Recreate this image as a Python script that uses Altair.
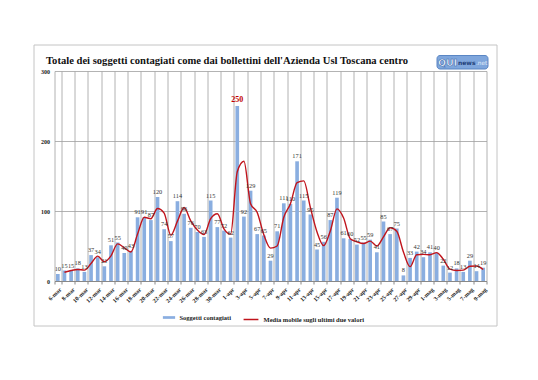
import altair as alt
import pandas as pd

days = ([f"{d}-mar" for d in range(6, 32)]
        + [f"{d}-apr" for d in range(1, 31)]
        + [f"{d}-mag" for d in range(1, 10)])
cases = [10, 15, 15, 18, 13, 37, 34, 21, 51, 55, 40, 43, 91, 91, 87, 120, 74, 57, 114, 96, 76, 70, 63, 115, 77, 72,
         62, 250, 92, 129, 67, 65, 29, 71, 111, 110, 171, 115, 95, 45, 56, 87, 119, 61, 60, 52, 55, 59, 41, 85, 67, 75, 8, 33, 42, 34,
         41, 40, 22, 12, 18, 13, 29, 14, 19]
y_ticks = [0, 50, 100, 150, 200, 250, 300]
title_text = "Totale dei soggetti contagiati come dai bollettini dell'Azienda Usl Toscana centro"
bar_name = "Soggetti contagiati"
line_name = "Media mobile sugli ultimi due valori"

df = pd.DataFrame({"idx": range(len(days)), "day": days, "cases": cases,
                   "s1": bar_name, "s2": line_name})

SERIF = "Liberation Serif"
W, H = 432, 210
GRID = "#A0A0A0"

x = alt.X("day:N", sort=days, title=None,
          scale=alt.Scale(paddingInner=0, paddingOuter=0),
          axis=alt.Axis(values=days[::2], labelAngle=-45, labelFont=SERIF, labelFontWeight="bold",
                        labelFontSize=6, labelColor="#222", tickBand="extent", grid=True,
                        gridColor=GRID, gridWidth=0.8, domainColor="#888", tickColor="#888",
                        tickSize=3, labelPadding=2))
y = alt.Y("cases:Q", title=None,
          scale=alt.Scale(domain=[0, 300], nice=False),
          axis=alt.Axis(values=y_ticks, labelFont=SERIF, labelFontWeight="bold", labelFontSize=6,
                        labelColor="#222", gridColor=GRID, gridWidth=0.8, domain=False,
                        ticks=False, labelPadding=5))

base = alt.Chart(df)

bars = base.mark_bar(width=alt.RelativeBandSize(0.55)).encode(
    x=x, y=y,
    color=alt.Color("s1:N", scale=alt.Scale(domain=[bar_name], range=["#8AAEE0"]),
                    legend=alt.Legend(title=None, orient="none", legendX=108, legendY=240,
                                      symbolType="M-1,-0.22H1V0.22H-1Z", symbolSize=150,
                                      labelFont=SERIF, labelFontWeight="bold", labelFontSize=6.5,
                                      labelColor="#222", padding=0, symbolStrokeWidth=0))
)

line = base.transform_window(
    ma="mean(cases)", n="count()", frame=[-1, 0], sort=[alt.SortField("idx")]
).transform_filter("datum.n == 2").mark_line(interpolate="monotone", strokeWidth=1.4).encode(
    x=x, y=alt.Y("ma:Q"),
    stroke=alt.Stroke("s2:N", scale=alt.Scale(domain=[line_name], range=["#C0141C"]),
                      legend=alt.Legend(title=None, orient="none", legendX=188, legendY=240,
                                        symbolType="stroke", symbolSize=220, symbolStrokeWidth=1.5,
                                        labelFont=SERIF, labelFontWeight="bold", labelFontSize=6.5,
                                        labelColor="#222", padding=0))
)

labels = base.transform_filter("datum.cases < 200").mark_text(
    dy=-5, font=SERIF, fontSize=6.3, color="#333").encode(x=x, y=y, text="cases:Q")
peak = base.transform_filter("datum.cases >= 200").mark_text(
    dy=-6, font=SERIF, fontSize=8, fontWeight="bold", color="#C00000").encode(x=x, y=y, text="cases:Q")

one = alt.Data(values=[{}])
border = alt.Chart(one).mark_rect(fill=None, stroke="#C4C4C4", strokeWidth=1, clip=False).encode(
    x=alt.value(-20.5), x2=alt.value(442.5), y=alt.value(-26), y2=alt.value(255))
title = alt.Chart(one).mark_text(text=title_text, font=SERIF, fontWeight="bold", fontSize=10.6,
                                 color="#111", align="left", baseline="alphabetic", clip=False).encode(
    x=alt.value(-8.5), y=alt.value(-7))
logo_box = alt.Chart(one).mark_rect(fill="#7FA6DC", stroke="#5A86C4", cornerRadius=3, clip=False).encode(
    x=alt.value(382.5), x2=alt.value(433.5), y=alt.value(-15.5), y2=alt.value(-2))
logo_q = alt.Chart(one).mark_text(text="QUI", font="DejaVu Sans", fontWeight="bold", fontSize=9.5,
                                  color="white", stroke="#3C6CB0", strokeWidth=0.6,
                                  align="left", baseline="middle", clip=False).encode(
    x=alt.value(383.5), y=alt.value(-8.5))
logo_n = alt.Chart(one).mark_text(text="news", font="DejaVu Sans", fontWeight="bold", fontSize=6,
                                  color="#1F3F78", align="left", baseline="middle", clip=False).encode(
    x=alt.value(403.5), y=alt.value(-8))
logo_net = alt.Chart(one).mark_text(text=".net", font="DejaVu Sans", fontSize=5.8,
                                    color="#E2ECF9", align="left", baseline="middle", clip=False).encode(
    x=alt.value(421.5), y=alt.value(-8))

chart = alt.layer(border, bars, line, labels, peak, title, logo_box, logo_q, logo_n, logo_net).properties(
    width=W, height=H,
    autosize=alt.AutoSizeParams(type="none"),
    padding={"left": 46.5, "top": 63, "right": 43.5, "bottom": 91},
    background="white",
).configure_view(stroke=None)

chart.save("out.html", embed_options={"renderer": "svg", "actions": False})
